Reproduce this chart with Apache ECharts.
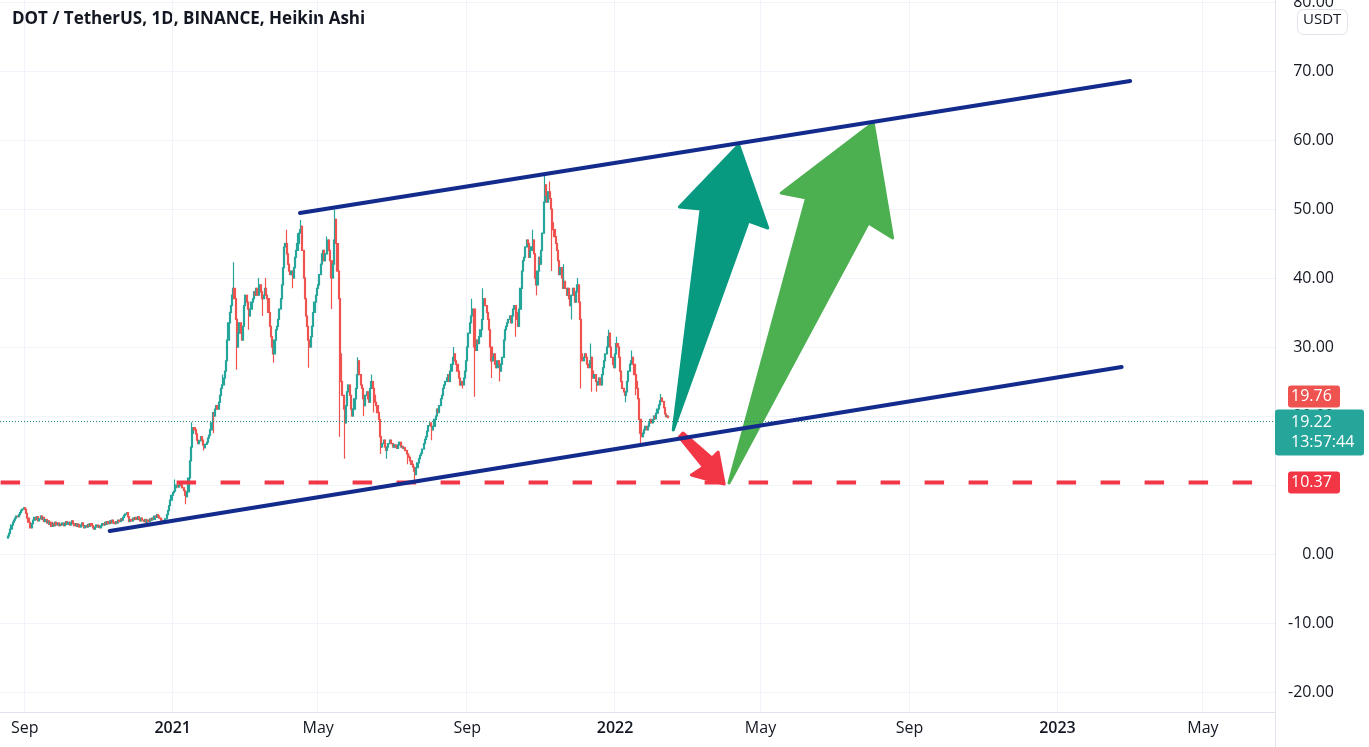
<!DOCTYPE html>
<html><head><meta charset="utf-8">
<script src="https://cdn.jsdelivr.net/npm/echarts@6/dist/echarts.min.js"></script>
<style>html,body{margin:0;padding:0;background:#fff;overflow:hidden}#c{width:1369px;height:747px}</style>
</head><body><div id="c"></div>
<script>
// ---------------- DATA ----------------
const chartTitle = 'DOT / TetherUS, 1D, BINANCE, Heikin Ashi';
const currencyLabel = 'USDT';
const axisStart = '2020-08-12';
const axisDays = 1052;
const firstDate = '2020-08-18';
const firstOpen = 2.3;
// Heikin Ashi daily closes, month by month
const c2020Aug = [2.6,3.0,3.6,4.2,4.6,4.9,5.2,5.5,5.4,5.7,6.0,6.3,6.5,6.7];
const c2020Sep = [6.5,5.9,5.2,4.6,4.1,3.8,4.4,4.9,5.3,5.0,5.4,4.8,5.1,5.5,5.0,5.3,4.7,5.0,4.5,4.8,4.3,4.6,4.0,4.4,4.1,4.6,4.2,4.5,4.1,4.3];
const c2020Oct = [4.2,4.5,4.1,4.4,4.7,4.3,4.6,4.2,4.5,4.8,4.4,4.1,4.4,4.0,4.3,3.9,4.2,4.5,4.1,3.8,4.1,3.9,4.3,4.0,4.4,4.1,3.8,3.6,3.9,4.2,3.9];
const c2020Nov = [4.1,3.8,4.1,4.4,4.2,4.6,4.3,4.7,4.4,4.8,4.5,4.9,4.6,4.4,4.7,4.5,4.9,4.7,5.1,4.9,5.3,5.6,5.8,6.0,5.4,4.7,5.0,4.8,5.2,5.0];
const c2020Dec = [5.3,5.0,5.4,5.1,4.8,5.2,4.9,4.7,5.0,4.6,4.9,4.7,5.1,4.9,5.2,5.0,5.5,5.3,5.7,5.5,5.2,4.9,4.6,4.8,4.6,5.1,5.7,6.3,7.0,7.8,8.5];
const c2021Jan = [8.9,9.1,9.6,10.0,9.7,9.9,10.2,10.0,9.6,9.2,8.5,8.3,9.0,11.0,13.5,15.5,17.5,18.3,18.0,17.4,16.5,16.0,16.4,17.0,16.5,15.8,15.4,15.9,16.2,16.8,17.2];
const c2021Feb = [18.0,19.0,20.5,20.0,21.0,21.5,21.0,22.0,23.0,24.0,24.5,25.5,26.5,28.0,31.0,33.5,35.0,36.0,37.5,38.5,37.0,34.0,30.0,32.0,33.5,32.0,31.0,33.0];
const c2021Mar = [36.0,37.5,36.5,35.5,34.5,35.5,36.5,37.0,38.0,37.5,38.5,37.5,38.0,39.0,38.0,37.0,37.5,38.5,37.5,37.0,35.0,33.0,31.5,30.0,29.0,31.0,32.5,33.0,34.0,35.5,37.0];
const c2021Apr = [39.0,41.5,44.5,45.0,43.5,42.0,41.0,40.5,41.0,40.0,41.5,43.0,44.0,45.0,46.5,47.0,47.5,44.0,40.0,37.0,34.5,33.0,31.0,30.0,31.5,33.0,35.0,36.5,37.5,38.5];
const c2021May = [39.0,40.5,42.0,43.5,44.0,42.5,43.5,44.5,45.5,44.0,42.5,40.0,42.0,45.5,48.5,45.0,41.0,37.0,29.0,25.0,23.0,21.0,19.0,21.5,23.5,24.5,23.0,21.0,20.0,21.0,22.5];
const c2021Jun = [24.0,26.0,28.0,26.0,24.5,24.0,22.5,21.5,23.0,23.5,22.5,22.0,24.0,25.0,24.0,23.0,22.0,21.5,20.5,19.5,17.0,15.5,16.0,16.5,15.5,15.0,15.5,16.0,16.5,16.0];
const c2021Jul = [16.0,15.5,15.8,15.5,15.3,15.8,16.2,15.5,15.6,15.3,15.4,15.0,14.5,14.2,14.0,13.5,13.0,12.6,12.0,11.5,12.5,13.2,13.8,14.3,14.6,15.2,16.0,16.6,17.0,17.8,18.6];
const c2021Aug = [19.0,18.5,18.0,18.5,19.5,20.0,21.0,20.5,21.5,22.5,23.0,24.0,24.5,25.0,25.5,26.0,25.0,26.5,27.5,28.5,29.0,28.0,27.5,26.5,25.5,24.5,25.0,24.5,25.5,26.5,28.0];
const c2021Sep = [30.0,32.0,33.5,34.5,35.0,35.5,30.0,29.5,31.0,30.5,31.5,32.5,34.0,36.5,37.0,36.0,35.0,34.0,32.5,30.0,28.0,28.5,29.0,27.5,27.0,28.0,27.5,26.5,27.5,28.5];
const c2021Oct = [31.0,32.5,33.0,33.5,34.0,34.5,33.5,34.5,35.5,36.0,35.0,34.0,33.0,35.5,38.5,41.0,42.5,43.0,44.5,45.5,45.0,43.0,44.0,44.5,45.5,43.5,40.0,39.0,41.0,43.0,42.0];
const c2021Nov = [44.0,46.5,51.0,53.5,52.0,51.0,52.5,51.5,50.0,48.0,47.0,46.0,45.0,44.0,42.5,40.5,41.5,40.0,38.5,39.5,38.5,37.5,38.5,37.0,36.0,37.5,38.5,37.5,36.5,38.0];
const c2021Dec = [39.0,36.5,34.0,29.0,28.0,28.5,29.0,28.5,27.5,27.0,28.0,28.5,26.5,25.5,26.0,25.0,24.5,25.0,25.5,24.5,26.0,27.0,28.0,29.0,30.0,31.5,32.0,30.0,28.5,27.5,27.0];
const c2022Jan = [29.0,30.5,30.0,28.5,26.5,25.0,24.0,23.5,23.0,23.5,25.0,26.5,27.5,28.0,28.5,27.5,26.0,25.0,24.0,22.5,19.5,17.5,17.0,17.5,18.0,18.5,18.0,18.5,19.0,19.5,19.0];
const c2022Feb = [19.5,20.0,19.6,20.4,21.0,21.6,22.2,22.6,22.1,21.2,20.3,19.9,20.0,19.76];
// wick extremes that stick out of the bodies
const wickLows = [['2020-09-05',3.7],['2021-01-12',7.2],['2021-01-27',15.0],['2021-02-04',17.5],['2021-02-23',26.7],['2021-03-05',32.5],['2021-03-16',34.5],['2021-03-25',27.7],['2021-04-10',38.5],['2021-04-23',27.0],['2021-05-12',35.5],['2021-05-19',17.0],['2021-05-23',13.8],['2021-06-08',20.0],['2021-06-16',20.5],['2021-06-22',14.5],['2021-06-27',13.8],['2021-07-14',13.0],['2021-07-20',10.7],['2021-08-03',16.5],['2021-08-28',24.0],['2021-09-07',22.8],['2021-09-21',25.5],['2021-09-28',25.0],['2021-10-11',31.5],['2021-10-28',37.5],['2021-11-10',41.0],['2021-11-26',34.0],['2021-12-04',24.0],['2021-12-13',23.5],['2021-12-17',23.5],['2022-01-10',22.0],['2022-01-18',23.0],['2022-01-22',16.0]];
const wickHighs = [['2020-11-24',6.0],['2021-01-03',10.8],['2021-01-17',19.1],['2021-02-11',26.0],['2021-02-20',42.3],['2021-03-13',40.0],['2021-03-19',40.0],['2021-04-05',47.0],['2021-04-14',46.5],['2021-04-17',48.4],['2021-05-08',46.0],['2021-05-15',49.9],['2021-06-03',28.5],['2021-06-14',26.0],['2021-08-21',30.0],['2021-09-05',37.0],['2021-09-14',38.5],['2021-10-25',47.0],['2021-11-04',55.0],['2021-11-08',54.0],['2021-11-20',42.0],['2021-12-01',40.0],['2021-12-12',30.5],['2021-12-27',32.5],['2022-01-02',31.5],['2022-01-15',29.5],['2022-02-08',23.2]];
// time-axis tick labels
const xTickLabels = [['2020-09-01','Sep'],['2021-01-01','2021'],['2021-05-01','May'],['2021-09-01','Sep'],['2022-01-01','2022'],['2022-05-01','May'],['2022-09-01','Sep'],['2023-01-01','2023'],['2023-05-01','May']];
const yTickMin = -30, yTickMax = 90, yTickStep = 10;
// drawings (date, price)
const upperTrend = [['2021-04-16',49.42],['2023-03-02',68.55]];
const lowerTrend = [['2020-11-10',3.33],['2023-02-23',27.1]];
const supportLevel = 10.37;
const supportSpan = ['2020-08-12','2023-06-13'];
const lastPrice = 19.22;
const lastHaClose = 19.76;
const countdown = '13:57:44';
const arrowTealPts = [['2022-02-18',17.97],['2022-04-21',48.26],['2022-05-07',47.25],['2022-04-13',59.28],['2022-02-23',50.3],['2022-03-13',50.0]];
const arrowGreenPts = [['2022-04-05',10.29],['2022-07-29',47.97],['2022-08-18',45.8],['2022-08-02',62.46],['2022-05-18',52.3],['2022-06-08',51.6]];
const arrowRedPts = [['2022-02-26',17.54],['2022-03-22',13.91],['2022-03-27',14.78],['2022-04-01',10.14],['2022-03-05',11.45],['2022-03-15',12.6],['2022-02-23',16.96]];

// ---------------- STYLE ----------------
const FONT = '"Open Sans", "Noto Sans", sans-serif';
const UP = '#26a69a', DOWN = '#ef5350';
const TREND = '#132b8c';
const SUPPORT = '#f23645';
const GRIDC = '#f0f3fa';
const AXISC = '#e0e3eb';
const TXT = '#131722';

// ---------------- BUILD ----------------
const DAY = 86400000;
const toT = s => { const p = s.split('-').map(Number); return Date.UTC(p[0], p[1]-1, p[2]); };
const toS = t => { const d = new Date(t); return d.getUTCFullYear()+'-'+String(d.getUTCMonth()+1).padStart(2,'0')+'-'+String(d.getUTCDate()).padStart(2,'0'); };
const t0 = toT(axisStart);
const categories = [];
for (let i = 0; i < axisDays; i++) categories.push(toS(t0 + i*DAY));
const catIndex = s => Math.round((toT(s) - t0) / DAY);
const labelMap = {}; xTickLabels.forEach(([d,l]) => labelMap[d] = l);
const showTick = (i, v) => labelMap[v] !== undefined;

const closes = [].concat(c2020Aug,c2020Sep,c2020Oct,c2020Nov,c2020Dec,c2021Jan,c2021Feb,c2021Mar,c2021Apr,c2021May,c2021Jun,c2021Jul,c2021Aug,c2021Sep,c2021Oct,c2021Nov,c2021Dec,c2022Jan,c2022Feb);
const lowMap = Object.fromEntries(wickLows), highMap = Object.fromEntries(wickHighs);
const candles = [];
let prev = firstOpen;
const tFirst = toT(firstDate);
closes.forEach((c, i) => {
  const d = toS(tFirst + i*DAY);
  let lo = Math.min(prev, c), hi = Math.max(prev, c);
  if (lowMap[d] !== undefined) lo = Math.min(lo, lowMap[d]);
  if (highMap[d] !== undefined) hi = Math.max(hi, highMap[d]);
  candles.push([d, prev, c, lo, hi]);
  prev = c;
});

const arrows = [
  {pts: arrowTealPts, color: '#089981'},
  {pts: arrowGreenPts, color: '#4caf50'},
  {pts: arrowRedPts, color: '#f23645'}
];

const chart = echarts.init(document.getElementById('c'), null, {renderer: 'canvas'});
chart.setOption({
  animation: false,
  backgroundColor: '#ffffff',
  textStyle: {fontFamily: FONT},
  grid: [
    {left: 0, right: 94, top: -67, bottom: -14, containLabel: false, outerBoundsMode: 'none'},
    {left: 0, right: 94, top: 0, bottom: 35, containLabel: false, outerBoundsMode: 'none'}
  ],
  xAxis: [
    {gridIndex: 0, type: 'category', data: categories, show: false},
    {gridIndex: 1, type: 'category', data: categories, boundaryGap: true, position: 'bottom',
     axisLine: {show: true, onZero: false, lineStyle: {color: AXISC, width: 1}},
     axisTick: {show: false},
     axisLabel: {interval: showTick, margin: 8, fontSize: 16, color: TXT, fontFamily: FONT,
       formatter: v => { const l = labelMap[v]; return /^\d{4}$/.test(l) ? '{y|' + l + '}' : l; },
       rich: {y: {fontSize: 16, fontWeight: 600, color: TXT, fontFamily: FONT}}},
     splitLine: {show: true, interval: showTick, lineStyle: {color: GRIDC, width: 1}}}
  ],
  yAxis: [
    {gridIndex: 0, type: 'value', position: 'right', min: yTickMin, max: yTickMax, interval: yTickStep,
     axisLine: {show: true, lineStyle: {color: AXISC}}, axisTick: {show: false},
     axisLabel: {margin: 59, align: 'right', fontSize: 16, color: TXT, fontFamily: FONT, formatter: v => v.toFixed(2)},
     splitLine: {show: true, lineStyle: {color: GRIDC}}},
    {gridIndex: 1, type: 'value', min: -22.9, max: 80.29, show: false, splitLine: {show: false}}
  ],
  graphic: [
    {type: 'text', left: 12, top: 11, style: {text: chartTitle, font: '700 17px ' + FONT, fill: TXT}},
    {type: 'rect', left: 1297, top: 9, shape: {width: 50, height: 25, r: 6}, style: {fill: '#fff', stroke: AXISC, lineWidth: 1}, z: 10},
    {type: 'text', left: 1303, top: 12, style: {text: currencyLabel, font: '15px ' + FONT, fill: TXT}, z: 11}
  ],
  series: [
    {type: 'candlestick', name: 'DOTUSDT', xAxisIndex: 1, yAxisIndex: 1, data: candles,
     encode: {x: 0, y: [1, 2, 3, 4]}, barWidth: 1.6, z: 2,
     itemStyle: {color: UP, color0: DOWN, borderColor: UP, borderColor0: DOWN, borderWidth: 1.2},
     markLine: {silent: true, symbol: 'none', label: {show: false},
       lineStyle: {color: '#1b8a7f', type: [1, 2], width: 1},
       data: [{yAxis: lastPrice}]}},
    {type: 'line', name: 'support', xAxisIndex: 1, yAxisIndex: 1, z: 3, silent: true, symbol: 'none',
     data: [[supportSpan[0], supportLevel], [supportSpan[1], supportLevel]],
     lineStyle: {color: SUPPORT, width: 4, type: [19.5, 24.5]}},
    {type: 'custom', name: 'arrows', xAxisIndex: 1, yAxisIndex: 1, z: 4, silent: true, clip: false,
     data: arrows.map(a => [catIndex(a.pts[0][0]), a.pts[0][1]]),
     renderItem: (params, api) => {
       const a = arrows[params.dataIndex];
       const points = a.pts.map(p => api.coord([catIndex(p[0]), p[1]]));
       return {type: 'polygon', shape: {points}, style: {fill: a.color, stroke: a.color, lineWidth: 3, lineJoin: 'round'}};
     }},
    {type: 'line', name: 'upper', xAxisIndex: 1, yAxisIndex: 1, z: 5, silent: true, symbol: 'none',
     data: upperTrend, lineStyle: {color: TREND, width: 4, cap: 'round'}},
    {type: 'line', name: 'lower', xAxisIndex: 1, yAxisIndex: 1, z: 5, silent: true, symbol: 'none',
     data: lowerTrend, lineStyle: {color: TREND, width: 4, cap: 'round'}},
    {type: 'custom', name: 'tags', xAxisIndex: 1, yAxisIndex: 1, z: 20, silent: true, clip: false,
     data: [[0, lastPrice]],
     renderItem: (params, api) => {
       const cs = params.coordSys;
       const right = cs.x + cs.width;
       const yLast = api.coord([0, lastPrice])[1];
       const ySup = api.coord([0, supportLevel])[1];
       const tTop = yLast - 12;
       const txt = (t, x, y) => ({type: 'text', style: {text: t, x, y, font: '500 16px ' + FONT, fill: '#fff', verticalAlign: 'middle', align: 'left'}});
       return {type: 'group', children: [
         {type: 'rect', shape: {x: right, y: tTop, width: 89, height: 46, r: 3}, style: {fill: UP}},
         txt(lastPrice.toFixed(2), right + 16, yLast + 1),
         txt(countdown, right + 16, yLast + 21),
         {type: 'rect', shape: {x: right + 13, y: tTop - 24, width: 52, height: 22, r: 3}, style: {fill: DOWN}},
         txt(lastHaClose.toFixed(2), right + 16, tTop - 13),
         {type: 'rect', shape: {x: right + 13, y: ySup - 11, width: 52, height: 22, r: 3}, style: {fill: SUPPORT}},
         txt(supportLevel.toFixed(2), right + 16, ySup)
       ]};
     }}
  ]
});
</script></body></html>
